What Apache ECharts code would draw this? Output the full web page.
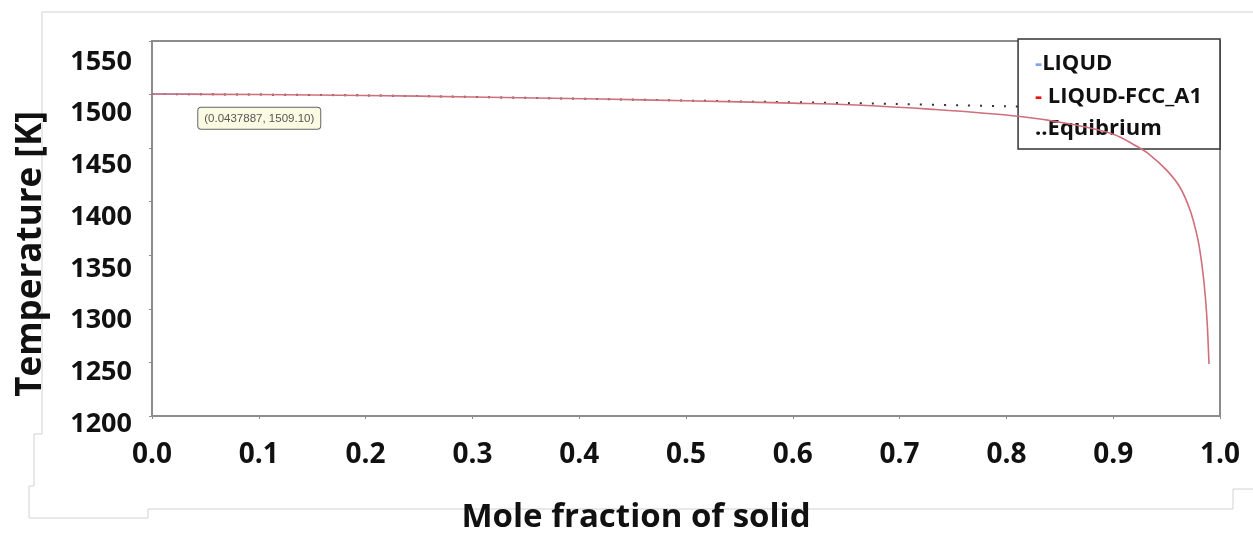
<!DOCTYPE html>
<html>
<head>
<meta charset="utf-8">
<script src="https://cdn.jsdelivr.net/npm/echarts@6/dist/echarts.min.js"></script>
<style>
html,body{margin:0;padding:0;background:#fff;}
#chart{width:1253px;height:539px;}
</style>
</head>
<body>
<div id="chart"></div>
<script>
// ---- data ----
const seriesNames = ['LIQUD', 'LIQUD-FCC_A1', 'Equibrium'];
const legendMarks = ['-', '- ', '..'];
const xTicks = [0.0, 0.1, 0.2, 0.3, 0.4, 0.5, 0.6, 0.7, 0.8, 0.9, 1.0];
const yTicks = [1200, 1250, 1300, 1350, 1400, 1450, 1500, 1550];

const liqudFs = [0.0, 0.0437887];
const liqudT  = [1500.5, 1500.3];

const fccFs = [0.0, 0.1, 0.2, 0.3, 0.42, 0.5, 0.6, 0.654, 0.731, 0.813, 0.86, 0.9, 0.922, 0.934, 0.950, 0.9625, 0.972, 0.978, 0.981, 0.9841, 0.9864, 0.9881, 0.9897];
const fccT  = [1500.5, 1500.0, 1499.2, 1497.8, 1495.8, 1494.3, 1492.0, 1490.5, 1486.2, 1479.5, 1472.5, 1463.0, 1451.7, 1444.0, 1429.5, 1413.5, 1392.1, 1370.7, 1355.5, 1332.9, 1309.9, 1285.2, 1248.6];

const eqFs = [0.0, 0.2, 0.42, 0.55, 0.654, 0.8, 0.9, 1.0];
const eqT  = [1500.5, 1499.2, 1495.8, 1493.6, 1492.0, 1489.0, 1487.0, 1485.0];

const annotationPoint = [0.0437887, 1500.3];
const annotationText = '(0.0437887, 1509.10)';

// ---- chart ----
const pair = (xs, ys) => xs.map((x, i) => [x, ys[i]]);
const FONT = 'Open Sans';
const chart = echarts.init(document.getElementById('chart'), null, {renderer: 'canvas'});

const markColors = {LIQUD: 'mb', 'LIQUD-FCC_A1': 'mr', Equibrium: 'mk'};

const option = {
  backgroundColor: '#ffffff',
  animation: false,
  grid: [
    {left: 152, right: 33, top: 41, bottom: 116, show: true, borderColor: '#8c8c8c', borderWidth: 2, backgroundColor: 'transparent'},
    {left: 152, right: 33, top: 62, bottom: 115, show: false}
  ],
  xAxis: [
    {
      type: 'value', gridIndex: 0, min: 0, max: 1, interval: 0.1,
      name: 'Mole fraction of solid', nameLocation: 'middle', nameGap: 85,
      nameTextStyle: {fontFamily: FONT, fontWeight: 'bold', fontSize: 33, color: '#111', padding: [0, 100, 0, 0]},
      axisLine: {show: true, lineStyle: {color: '#8c8c8c', width: 2}},
      axisTick: {show: true, inside: false, length: 3, lineStyle: {color: '#8c8c8c', width: 1}},
      splitLine: {show: false},
      axisLabel: {fontFamily: FONT, fontWeight: 'bold', fontSize: 28, color: '#111', margin: 25,
        formatter: v => v.toFixed(1)}
    },
    {type: 'value', gridIndex: 1, min: 0, max: 1, show: false}
  ],
  yAxis: [
    {
      type: 'value', gridIndex: 0, min: 1200, max: 1550, interval: 50,
      axisLine: {show: true, lineStyle: {color: '#8c8c8c', width: 2}},
      axisTick: {show: true, inside: false, length: 3, lineStyle: {color: '#8c8c8c', width: 1}},
      splitLine: {show: false},
      axisLabel: {show: false}
    },
    {
      type: 'value', gridIndex: 1, min: yTicks[0], max: yTicks[yTicks.length - 1], interval: 50,
      name: 'Temperature [K]', nameLocation: 'middle', nameGap: 103,
      nameTextStyle: {fontFamily: FONT, fontWeight: 'bold', fontSize: 35, color: '#111', padding: [0, 22, 0, 0]},
      axisLine: {show: false}, axisTick: {show: false}, splitLine: {show: false},
      axisLabel: {fontFamily: FONT, fontWeight: 'bold', fontSize: 27, color: '#111', margin: 20,
        formatter: v => String(v)}
    }
  ],
  legend: {
    orient: 'vertical', right: 33, top: 39,
    backgroundColor: '#ffffff', borderColor: '#333', borderWidth: 1.5,
    padding: [14, 18, 9, 12], itemGap: 10.5, itemWidth: 0, itemHeight: 0, icon: 'none',
    selectedMode: false,
    textStyle: {
      fontFamily: FONT, fontWeight: 'bold', fontSize: 22, color: '#111', lineHeight: 22,
      rich: {
        mb: {fontFamily: FONT, fontWeight: 'bold', fontSize: 22, lineHeight: 22, color: '#7fa3e3'},
        mr: {fontFamily: FONT, fontWeight: 'bold', fontSize: 22, lineHeight: 22, color: '#ee1111'},
        mk: {fontFamily: FONT, fontWeight: 'bold', fontSize: 22, lineHeight: 22, color: '#111'}
      }
    },
    formatter: name => '{' + markColors[name] + '|' + legendMarks[seriesNames.indexOf(name)] + '}' + name,
    data: seriesNames.map(n => ({name: n}))
  },
  graphic: [
    {
      type: 'polyline', z: -1, silent: true,
      shape: {points: [[1253, 12], [42, 12], [42, 434], [34, 434], [34, 486], [29, 486], [29, 518], [148, 518], [148, 509], [1233, 509], [1233, 489], [1253, 489]]},
      style: {stroke: '#d2d2d2', lineWidth: 1, fill: null}
    }
  ],
  series: [
    {
      name: seriesNames[2], type: 'line', xAxisIndex: 0, yAxisIndex: 0,
      data: pair(eqFs, eqT), showSymbol: false, smooth: 0.3,
      lineStyle: {color: '#333', width: 2, type: [2, 10]}, itemStyle: {color: '#333'}, z: 2
    },
    {
      name: seriesNames[0], type: 'line', xAxisIndex: 0, yAxisIndex: 0,
      data: pair(liqudFs, liqudT), showSymbol: false,
      lineStyle: {color: '#7fa3e3', width: 1.5}, itemStyle: {color: '#7fa3e3'}, z: 3,
      markPoint: {
        symbol: 'circle', symbolSize: 1, itemStyle: {color: 'transparent'},
        label: {
          show: true, position: [0, 14], formatter: annotationText,
          fontFamily: 'Liberation Sans', fontSize: 11.5, color: '#555',
          backgroundColor: '#fbfbe4', borderColor: '#666', borderWidth: 1, borderRadius: 3,
          padding: [5, 6, 4, 6]
        },
        data: [{coord: annotationPoint}]
      }
    },
    {
      name: seriesNames[1], type: 'line', xAxisIndex: 0, yAxisIndex: 0,
      data: pair(fccFs, fccT), showSymbol: false, smooth: 0.35,
      lineStyle: {color: '#cf6f7c', width: 1.6}, itemStyle: {color: '#cf6f7c'}, z: 4
    }
  ]
};
chart.setOption(option);
</script>
</body>
</html>
